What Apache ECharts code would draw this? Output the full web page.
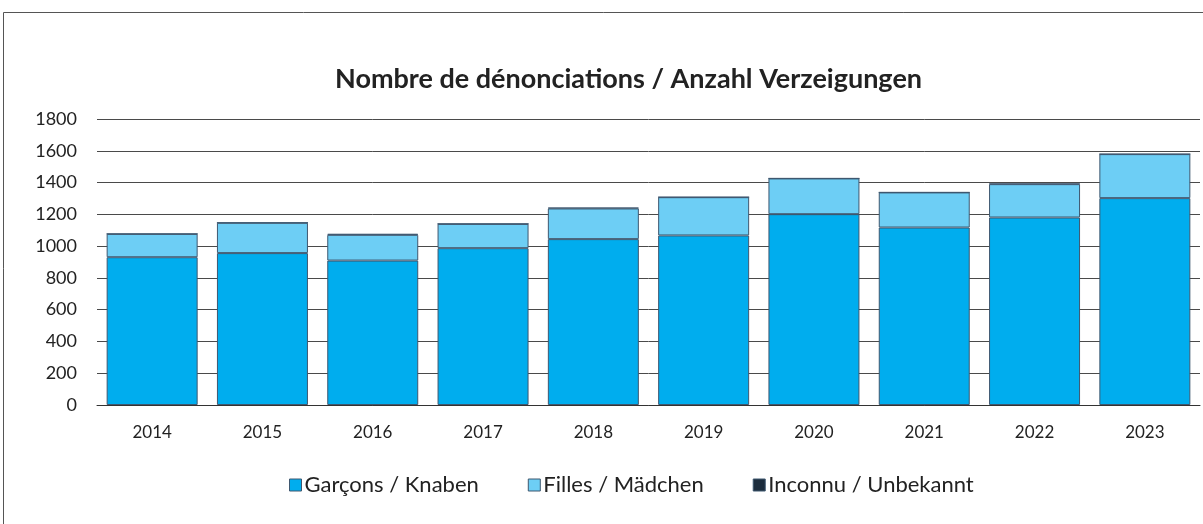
<!DOCTYPE html>
<html>
<head>
<meta charset="utf-8">
<script src="https://cdn.jsdelivr.net/npm/echarts@6/dist/echarts.min.js"></script>
<style>
html,body{margin:0;padding:0;background:#fff;}
#c{width:1203px;height:524px;}
</style>
</head>
<body>
<div id="c"></div>
<script>
const categories = ['2014','2015','2016','2017','2018','2019','2020','2021','2022','2023'];
const garcons = [930, 956, 909, 987, 1044, 1067, 1201, 1117, 1180, 1302];
const filles = [147, 191, 162, 153, 193, 241, 225, 221, 210, 277];
const inconnu = [0, 0, 6, 0, 5, 0, 0, 0, 3, 0];
const yTicks = [0, 200, 400, 600, 800, 1000, 1200, 1400, 1600, 1800];
const seriesNames = ['Garçons / Knaben', 'Filles / Mädchen', 'Inconnu / Unbekannt'];
const titleText = 'Nombre de dénonciations / Anzahl Verzeigungen';

const FONT = 'Lato, "Open Sans", sans-serif';
const chart = echarts.init(document.getElementById('c'), null, {renderer: 'canvas'});
const borderCol = '#3f5870';
function barSeries(name, data, color) {
  return {
    name: name, type: 'bar', stack: 'total', data: data,
    barCategoryGap: '17.5%',
    itemStyle: {color: color, borderColor: borderCol, borderWidth: 1},
    emphasis: {disabled: true}
  };
}
chart.setOption({
  animation: false,
  graphic: [{
    type: 'rect', shape: {x: 3.5, y: 12.5, width: 1220, height: 540},
    style: {fill: 'none', stroke: '#555', lineWidth: 1}, silent: true, z: -10
  }],
  title: {
    text: titleText, left: 330, top: 61,
    textStyle: {fontFamily: FONT, fontWeight: 'bold', fontSize: 27, color: '#222'}
  },
  legend: {
    data: seriesNames, left: 284, top: 469, itemWidth: 12, itemHeight: 12, itemGap: 49,
    icon: 'rect',
    textStyle: {fontFamily: FONT, fontSize: 22, color: '#222', padding: [0,0,0,-2]},
    itemStyle: {borderColor: '#3f5870', borderWidth: 1}
  },
  grid: {left: 97, right: 3, top: 119, bottom: 119, containLabel: false},
  xAxis: {
    type: 'category', data: categories,
    axisLine: {show: true, lineStyle: {color: '#333', width: 1}},
    axisTick: {show: false},
    axisLabel: {fontFamily: FONT, fontSize: 17, color: '#222', margin: 19}
  },
  yAxis: {
    type: 'value', min: yTicks[0], max: yTicks[yTicks.length-1], interval: 200,
    axisLine: {show: false}, axisTick: {show: false},
    axisLabel: {fontFamily: FONT, fontSize: 18, color: '#222', margin: 20,
      formatter: function (v) { return String(v); }},
    splitLine: {show: true, lineStyle: {color: '#4a4a4a', width: 1}}
  },
  series: [
    barSeries(seriesNames[0], garcons, '#00adee'),
    barSeries(seriesNames[1], filles, '#6dcef5'),
    barSeries(seriesNames[2], inconnu, '#1c2c3c')
  ]
});
</script>
</body>
</html>
